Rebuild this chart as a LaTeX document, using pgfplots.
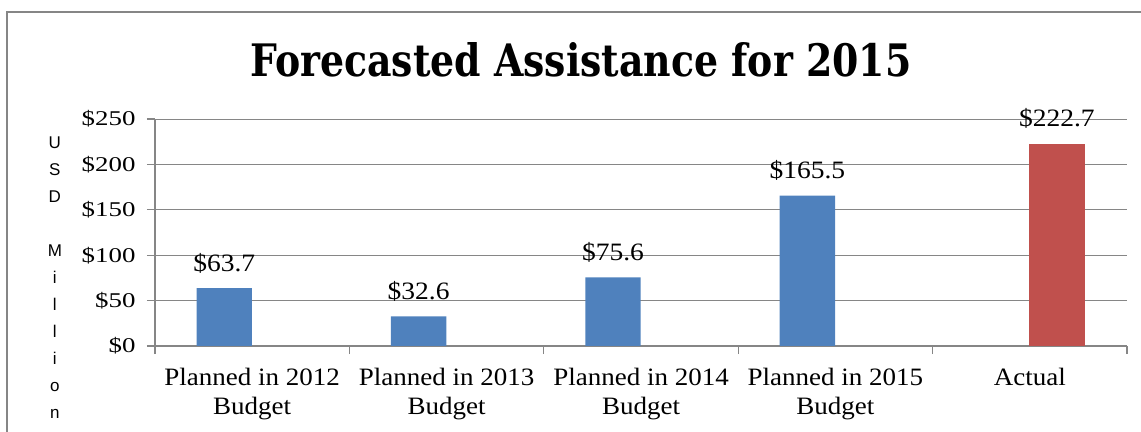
\documentclass[border=0pt]{standalone}
\usepackage{pgfplots}
\pgfplotsset{compat=1.18}
\usepackage{fontspec}
\setmainfont{Liberation Serif}
\newfontfamily\titlefont{DejaVu Serif}
\newfontfamily\labelfont{Liberation Sans}
\definecolor{barblue}{HTML}{4F81BD}
\definecolor{barred}{HTML}{C0504D}
\definecolor{axgray}{HTML}{868686}
\begin{document}
\begin{tikzpicture}
\useasboundingbox (0,0) rectangle (1141bp,432bp);
\draw[axgray, line width=2bp] (7bp,-5bp) -- (7bp,420bp) -- (1150bp,420bp);
\node[anchor=base west, inner sep=0pt] at (250bp,355bp) {\resizebox{661bp}{34bp}{\titlefont\bfseries Forecasted Assistance for 2015}};
\begin{axis}[
  at={(155bp,86bp)}, anchor=south west,
  scale only axis, width=972bp, height=227bp,
  xmin=-0.5, xmax=4.5, ymin=0, ymax=250,
  axis x line*=bottom, axis y line*=left,
  axis line style={axgray, line width=1.2bp},
  ytick={0,50,...,250},
  ymajorgrids, grid style={axgray, line width=1bp},
  xtick={0,1,2,3,4},
  minor xtick={-0.5,0.5,1.5,2.5,3.5,4.5},
  xticklabels={{Planned in 2012\\Budget},{Planned in 2013\\Budget},{Planned in 2014\\Budget},{Planned in 2015\\Budget},{Actual}},
  tick align=outside, major tick length=8bp, minor tick length=8bp,
  every major x tick/.append style={draw=none},
  every tick/.append style={axgray, line width=1.2bp},
  /pgf/number format/assume math mode=true,
  yticklabel={\scalebox{1.28}[1]{\$\pgfmathprintnumber{\tick}}},
  yticklabel style={font=\fontsize{21bp}{24bp}\selectfont, anchor=east, xshift=-8bp},
  xticklabel style={font=\fontsize{25bp}{29bp}\selectfont, align=center, anchor=north, yshift=-11bp, xscale=1.08},
  ylabel={\labelfont\fontsize{17bp}{27bp}\selectfont\begin{tabular}{@{}c@{}}U\\S\\D\\ \\M\\i\\l\\l\\i\\o\\n\end{tabular}},
  ylabel style={rotate=-90, at={(axis description cs:-0.103,0.30)}, anchor=center},
  ybar, bar width=0.285,
  nodes near coords={\$\pgfmathprintnumber[fixed,precision=1,fixed zerofill]{\pgfplotspointmeta}},
  nodes near coords style={font=\fontsize{25bp}{28bp}\selectfont, anchor=base, yshift=17bp, xscale=1.1},
]
\addplot[fill=barblue, draw=none, bar shift=-0.144] coordinates {(0,63.7) (1,32.6) (2,75.6) (3,165.5)};
\addplot[fill=barred, draw=none, bar shift=0.139] coordinates {(4,222.7)};
\end{axis}
\end{tikzpicture}
\end{document}
